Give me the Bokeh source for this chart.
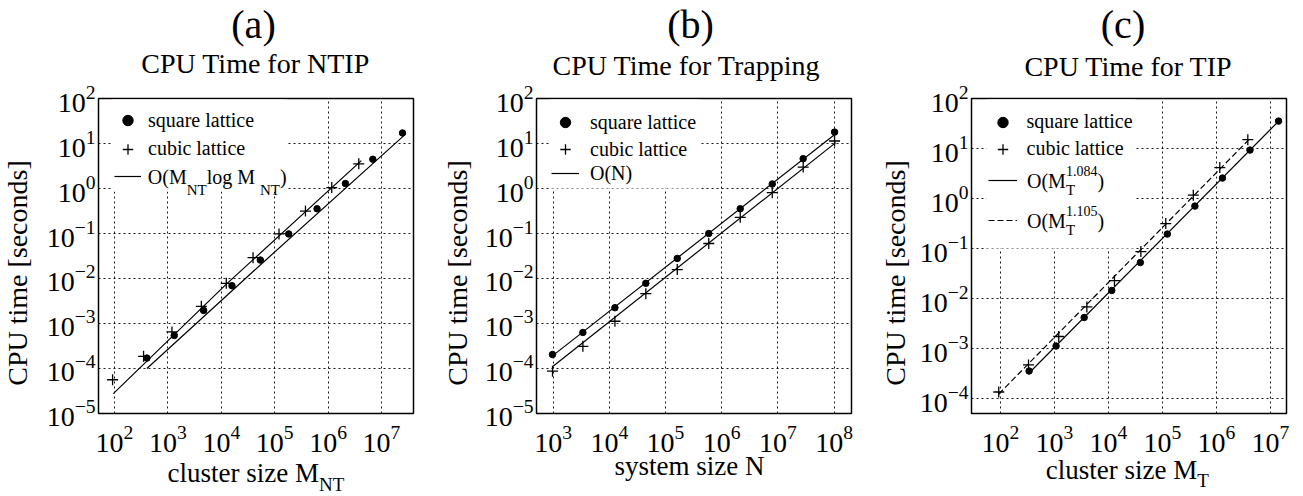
import math
from bokeh.plotting import figure
from bokeh.layouts import row, column
from bokeh.models import (Range1d, FixedTicker, LogTickFormatter, Label, Legend,
                          LegendItem, BoxAnnotation)
from bokeh.embed import file_html
from bokeh.resources import INLINE

# ---------------- data ----------------
# (a) CPU Time for NTIP
a_square_x = [404, 1315, 4670, 15850, 53800, 183000, 622000, 2113000, 6890000, 24800000]
a_square_y = [1.7e-4, 5.4e-4, 1.95e-3, 6.9e-3, 2.57e-2, 9.8e-2, 0.355, 1.29, 4.47, 17.2]
a_cubic_x = [92, 350, 1190, 4230, 12400, 39300, 120500, 377000, 1172000, 3760000]
a_cubic_y = [5.6e-5, 1.86e-4, 6.5e-4, 2.4e-3, 7.8e-3, 2.9e-2, 9.8e-2, 0.316, 1.05, 3.55]
a_fit_cubic_x = [95, 12300, 4.2e6]
a_fit_cubic_y = [2.75e-5, 7.4e-3, 4.17]
a_fit_square_x = [404, 53800, 2.6e7]
a_fit_square_y = [1.0e-4, 2.0e-2, 14.8]

# (b) CPU Time for Trapping
b_x = [977, 3390, 12600, 44700, 162000, 589000, 2140000, 7940000, 28200000, 102000000]
b_square_y = [2.04e-4, 6.3e-4, 2.24e-3, 7.8e-3, 2.8e-2, 0.100, 0.355, 1.26, 4.62, 18.0]
b_cubic_y = [8.7e-5, 3.1e-4, 1.12e-3, 4.6e-3, 1.58e-2, 6.0e-2, 0.229, 0.81, 3.0, 11.4]
b_fit_x = [1000, 1.07e8]
b_fit_square_y = [1.95e-4, 16.6]
b_fit_cubic_y = [1.12e-4, 10.5]

# (c) CPU Time for TIP
c_square_x = [339, 1070, 3550, 11500, 38900, 123000, 398000, 1290000, 4170000, 14100000]
c_square_y = [3.55e-4, 1.12e-3, 4.17e-3, 1.45e-2, 5.25e-2, 0.195, 0.708, 2.57, 9.33, 35.5]
c_cubic_x = [93, 331, 1200, 3980, 12900, 39800, 115000, 372000, 1150000, 3800000]
c_cubic_y = [1.35e-4, 4.7e-4, 1.74e-3, 6.8e-3, 2.29e-2, 8.7e-2, 0.316, 1.17, 4.17, 15.1]
c_fit_square_x = [339, 1.48e7]
c_fit_square_y = [3.24e-4, 37.2]
c_fit_cubic_x = [93, 3.9e6]
c_fit_cubic_y = [1.23e-4, 14.8]

# tick values
a_xticks = [1e2, 1e3, 1e4, 1e5, 1e6, 1e7]
b_xticks = [1e3, 1e4, 1e5, 1e6, 1e7, 1e8]
c_xticks = [1e2, 1e3, 1e4, 1e5, 1e6, 1e7]
ab_yticks = [1e-5, 1e-4, 1e-3, 1e-2, 1e-1, 1e0, 1e1, 1e2]
c_yticks = [1e-4, 1e-3, 1e-2, 1e-1, 1e0, 1e1, 1e2]

panel_letters = ["(a)", "(b)", "(c)"]
titles = ["CPU Time for NTIP", "CPU Time for Trapping", "CPU Time for TIP"]
ylabel = "CPU time [seconds]"

# ---------------- layout constants (page pixels) ----------------
SERIF = "Liberation Serif"
TOP_H = 81          # title strip: page y 0..81
ROW_H = 374         # plots row:   page y 81..455
BOT_H = 39          # x-label strip: page y 455..494
FT = 98             # plot frame top
FB = 413            # plot frame bottom
ORIGIN = {}         # figure id -> (page x of frame left, page y of frame bottom)
BASE_SHIFT = 0.32   # empirical baseline correction (fraction of font size)

# Times / Liberation Serif advance widths (per 1000 em)
W = {' ': 250, '(': 333, ')': 333, 'O': 722, 'M': 889, 'N': 722, 'T': 611, 'l': 278,
     'o': 500, 'g': 500, '.': 250, 'c': 444, 'u': 500, 's': 389, 't': 278, 'e': 444,
     'r': 333, 'i': 278, 'z': 444, 'y': 500, 'm': 778}
for d in "0123456789":
    W[d] = 500


def tw(s, fs):
    return sum(W.get(ch, 500) for ch in s) * fs / 1000.0


def text_fig(left, top, w, h):
    p = figure(frame_width=w, frame_height=h, min_border=0,
               min_border_left=0, min_border_right=0, min_border_top=0, min_border_bottom=0,
               x_range=Range1d(0, w), y_range=Range1d(0, h),
               x_axis_location=None, y_axis_location=None,
               output_backend="svg", toolbar_location=None)
    p.outline_line_color = None
    p.background_fill_color = "white"
    p.border_fill_color = "white"
    p.grid.visible = False
    ORIGIN[p.id] = (left, top + h)
    return p


def make_fig(fl, xr, yr, xticks, yticks, bl, br):
    p = figure(x_axis_type="log", y_axis_type="log",
               x_range=Range1d(*xr), y_range=Range1d(*yr),
               frame_width=315, frame_height=315,
               min_border_left=bl, min_border_right=br,
               min_border_top=FT - TOP_H, min_border_bottom=TOP_H + ROW_H - FB,
               output_backend="svg", toolbar_location=None)
    p.background_fill_color = "white"
    p.border_fill_color = "white"
    p.outline_line_color = "black"
    p.outline_line_width = 1.5
    for ax, tk in ((p.xaxis, xticks), (p.yaxis, yticks)):
        ax.ticker = FixedTicker(ticks=tk)
        ax.formatter = LogTickFormatter()
        ax.major_label_text_font = SERIF
        ax.major_label_text_font_size = "28px"
        ax.major_label_text_color = "black"
        ax.major_tick_in = 0
        ax.major_tick_out = 0
        ax.minor_tick_in = 0
        ax.minor_tick_out = 0
        ax.axis_line_color = None
    p.xaxis.major_label_standoff = 12
    p.yaxis.major_label_standoff = 3
    p.xgrid.ticker = FixedTicker(ticks=xticks)
    p.ygrid.ticker = FixedTicker(ticks=yticks)
    for g in (p.xgrid, p.ygrid):
        g.grid_line_color = "black"
        g.grid_line_dash = "2 3"
        g.grid_line_width = 1
        g.grid_line_alpha = 0.9
    ORIGIN[p.id] = (fl, FB)
    return p


def lab(p, x, y, text, size, align="left", baseline="alphabetic", angle=0.0):
    ox, oy = ORIGIN[p.id]
    if baseline == "alphabetic":
        y = y - BASE_SHIFT * size
    p.add_layout(Label(x=x - ox, y=oy - y, x_units="screen", y_units="screen",
                       text=text, text_font=SERIF, text_font_size=f"{size}px",
                       text_color="black", text_align=align, text_baseline=baseline,
                       angle=angle))


def rich(p, x, base, groups):
    # groups: list of lists of (text, size, dy); items in a group stack at same x
    for grp in groups:
        adv = 0.0
        for text, size, dy in grp:
            lab(p, x, base + dy, text, size)
            adv = max(adv, tw(text, size))
        x += adv


def white_box(p, x0, x1, y0, y1):
    ox, oy = ORIGIN[p.id]
    p.add_layout(BoxAnnotation(left=x0 - ox, right=x1 - ox, top=oy - y0, bottom=oy - y1,
                               left_units="screen", right_units="screen",
                               top_units="screen", bottom_units="screen",
                               fill_color="white", fill_alpha=1.0, line_color=None,
                               level="annotation"))


def legend_row(p, r, label, gx, cy, gw, standoff, lw=20):
    gh = 26
    ox, oy = ORIGIN[p.id]
    leg = Legend(items=[LegendItem(label=label, renderers=[r])],
                 location=(gx - ox, oy - (cy + gh / 2.0)),
                 padding=0, margin=0, spacing=0,
                 glyph_width=gw, glyph_height=gh, label_height=gh,
                 label_standoff=standoff, label_width=lw,
                 background_fill_alpha=0, border_line_alpha=0,
                 label_text_font=SERIF, label_text_font_size="20px",
                 label_text_color="black")
    p.add_layout(leg)


DOT = dict(marker="circle", size=6.5, fill_color="black", line_color="black")
PLUS = dict(marker="cross", size=11, line_color="black", line_width=1.3)
LINE = dict(line_color="black", line_width=1.2)

# ---------------- text strips ----------------
top = text_fig(0, 0, 1300, TOP_H)
bottom = text_fig(0, TOP_H + ROW_H, 1300, BOT_H)
yl_a = text_fig(0, TOP_H, 43, ROW_H)
yl_b = text_fig(435, TOP_H, 43, ROW_H)
yl_c = text_fig(872, TOP_H, 40, ROW_H)

for i, (lx, tx, tb) in enumerate([(253, 255, 72), (690, 686, 74), (1122.5, 1128, 75)]):
    lab(top, lx, 37, panel_letters[i], 40, align="center")
    lab(top, tx, tb, titles[i], 28, align="center")

for fig_, xc in ((yl_a, 17.0), (yl_b, 453.5), (yl_c, 891.0)):
    lab(fig_, xc, (FT + FB) / 2.0, ylabel, 28, align="center", baseline="middle",
        angle=math.pi / 2)

rich(bottom, 167.0, 481.5, [[("cluster size M", 27, 0)], [("NT", 19, 8.5)]])
lab(bottom, 689, 474, "system size N", 27, align="center")
rich(bottom, 1045.2, 478, [[("cluster size M", 27, 0)], [("T", 19, 8.5)]])

# ---------------- panel (a) ----------------
pa = make_fig(95, (10 ** 1.7, 10 ** 7.6), (10 ** -5.002, 10 ** 2.002),
              a_xticks, ab_yticks, 52, 25)
l1 = pa.line(a_fit_cubic_x, a_fit_cubic_y, **LINE)
pa.line(a_fit_square_x, a_fit_square_y, **LINE)
s1 = pa.scatter(a_square_x, a_square_y, **DOT)
c1 = pa.scatter(a_cubic_x, a_cubic_y, **PLUS)
white_box(pa, 108, 283, FT + 1, 191)
legend_row(pa, s1, "square lattice", 111, 120, 27, 7)
legend_row(pa, c1, "cubic lattice", 111, 148.5, 27, 7)
legend_row(pa, l1, " ", 111, 176, 27, 7)
rich(pa, 144.3, 182.5, [[("O(M", 20, 0)], [("NT", 15, 12)], [(" log M", 20, 0)],
                        [("NT", 15, 12)], [(")", 20, 0)]])

# ---------------- panel (b) ----------------
pb = make_fig(532, (10 ** 2.705, 10 ** 8.31), (10 ** -5.002, 10 ** 2.002),
              b_xticks, ab_yticks, 54, 25)
l2 = pb.line(b_fit_x, b_fit_square_y, **LINE)
pb.line(b_fit_x, b_fit_cubic_y, **LINE)
s2 = pb.scatter(b_x, b_square_y, **DOT)
c2 = pb.scatter(b_x, b_cubic_y, **PLUS)
white_box(pb, 545, 696, FT + 1, 188)
legend_row(pb, s2, "square lattice", 547, 122, 28, 11)
legend_row(pb, c2, "cubic lattice", 547, 149, 28, 11)
legend_row(pb, l2, "O(N)", 547, 173.3, 28, 11)

# ---------------- panel (c) ----------------
pc = make_fig(967, (10 ** 1.464, 10 ** 7.296), (10 ** -4.3, 10 ** 2.002),
              c_xticks, c_yticks, 55, 18)
l3 = pc.line(c_fit_square_x, c_fit_square_y, **LINE)
l4 = pc.line(c_fit_cubic_x, c_fit_cubic_y, line_dash="6 3", **LINE)
s3 = pc.scatter(c_square_x, c_square_y, **DOT)
c3 = pc.scatter(c_cubic_x, c_cubic_y, **PLUS)
white_box(pc, 982, 1131, FT + 1, 248)
legend_row(pc, s3, "square lattice", 983.5, 121.5, 29, 10)
legend_row(pc, c3, "cubic lattice", 983.5, 148.5, 29, 10)
legend_row(pc, l3, " ", 983.5, 180, 29, 10)
legend_row(pc, l4, " ", 983.5, 220, 29, 10)
rich(pc, 1022.5, 187, [[("O(M", 20, 0)], [("T", 15, 7), ("1.084", 14, -12)], [(")", 20, 0)]])
rich(pc, 1022.5, 227, [[("O(M", 20, 0)], [("T", 15, 7), ("1.105", 14, -12)], [(")", 20, 0)]])

layout = column(top, row(yl_a, pa, yl_b, pb, yl_c, pc), bottom)
open("out.html", "w").write(file_html(layout, INLINE))
